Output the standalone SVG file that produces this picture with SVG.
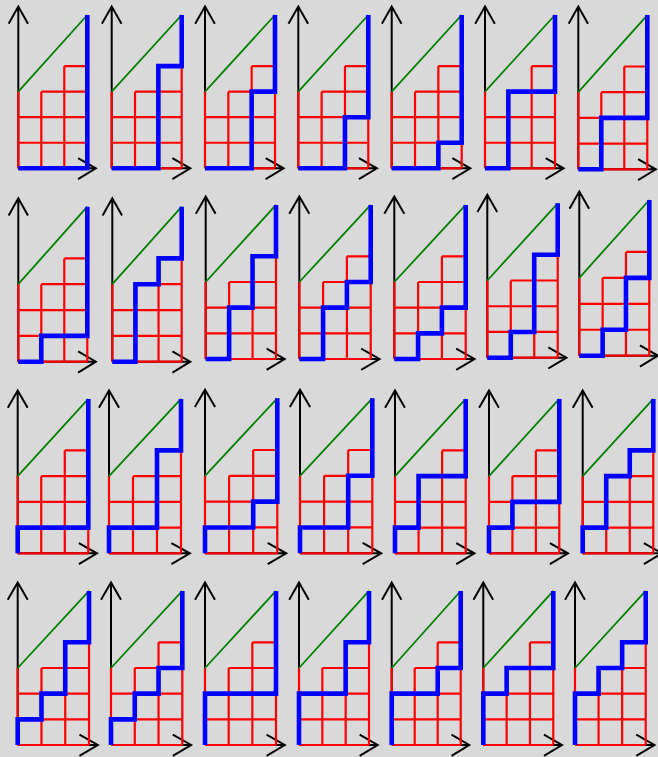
<svg xmlns="http://www.w3.org/2000/svg" width="658" height="757" viewBox="0 0 658 757">
<style>
.ax{fill:none;stroke:#000;stroke-width:2;vector-effect:non-scaling-stroke}
.grid{fill:none;stroke:#ff0000;stroke-width:2.2;vector-effect:non-scaling-stroke}
.diag{fill:none;stroke:#008000;stroke-width:1.8;vector-effect:non-scaling-stroke}
.lp{fill:none;stroke:#0000ff;stroke-width:4.6;stroke-linejoin:miter;vector-effect:non-scaling-stroke}
</style>
<defs>
<g id="frame">
<path class="ax" d="M0,0 V-6.33 M-0.42,-5.66 L0,-6.33 L0.42,-5.66 M0,0 H3.37 M2.6,-0.4 L3.37,0 L2.6,0.42"/>
<path class="grid" d="M0,0 V-3 M1,0 V-3 M2,0 V-4 M3,0 V-4 M0,0 H3 M0,-1 H3 M0,-2 H3 M1,-3 H3 M2,-4 H3"/>
<path class="diag" d="M0,-3 L3,-6"/>
</g>
</defs>
<rect width="658" height="757" fill="#d9d9d9"/>
<g id="connectors"></g>
<!-- row 1 -->
<g id="p1-1" transform="translate(18.3,168.3) scale(23,25.55)"><use href="#frame"/><path class="lp" d="M0,0 V0 H1 V0 H2 V0 H3 V-6"/></g>
<g id="p1-2" transform="translate(111.7,168.3) scale(23.33,25.55)"><use href="#frame"/><path class="lp" d="M0,0 V0 H1 V0 H2 V-4 H3 V-6"/></g>
<g id="p1-3" transform="translate(205,168.3) scale(23.33,25.55)"><use href="#frame"/><path class="lp" d="M0,0 V0 H1 V0 H2 V-3 H3 V-6"/></g>
<g id="p1-4" transform="translate(298.3,168.3) scale(23.33,25.55)"><use href="#frame"/><path class="lp" d="M0,0 V0 H1 V0 H2 V-2 H3 V-6"/></g>
<g id="p1-5" transform="translate(391.7,168.3) scale(23.33,25.55)"><use href="#frame"/><path class="lp" d="M0,0 V0 H1 V0 H2 V-1 H3 V-6"/></g>
<g id="p1-6" transform="translate(485,168.3) scale(23.33,25.55)"><use href="#frame"/><path class="lp" d="M0,0 V0 H1 V-3 H2 V-3 H3 V-6"/></g>
<g id="p1-7" transform="translate(578.3,169.3) scale(23,25.7)"><use href="#frame"/><path class="lp" d="M0,0 V0 H1 V-2 H2 V-2 H3 V-6"/></g>
<!-- row 2 -->
<g id="p2-1" transform="translate(18.3,361.7) scale(23,25.83)"><use href="#frame"/><path class="lp" d="M0,0 V0 H1 V-1 H2 V-1 H3 V-6"/></g>
<g id="p2-2" transform="translate(112.3,361.7) scale(23.13,25.83)"><use href="#frame"/><path class="lp" d="M0,0 V0 H1 V-3 H2 V-4 H3 V-6"/></g>
<g id="p2-3" transform="translate(205.7,359) scale(23.43,25.67)"><use href="#frame"/><path class="lp" d="M0,0 V0 H1 V-2 H2 V-4 H3 V-6"/></g>
<g id="p2-4" transform="translate(299.3,359) scale(23.8,25.67)"><use href="#frame"/><path class="lp" d="M0,0 V0 H1 V-2 H2 V-3 H3 V-6"/></g>
<g id="p2-5" transform="translate(394.3,359) scale(23.8,25.67)"><use href="#frame"/><path class="lp" d="M0,0 V0 H1 V-1 H2 V-2 H3 V-6"/></g>
<g id="p2-6" transform="translate(487.3,357.7) scale(23.47,25.73)"><use href="#frame"/><path class="lp" d="M0,0 V0 H1 V-1 H2 V-4 H3 V-6"/></g>
<g id="p2-7" transform="translate(579.3,355.7) scale(23.33,25.95)"><use href="#frame"/><path class="lp" d="M0,0 V0 H1 V-1 H2 V-3 H3 V-6"/></g>
<!-- row 3 -->
<g id="p3-1" transform="translate(17.7,553.3) scale(23.53,25.72)"><use href="#frame"/><path class="lp" d="M0,0 V-1 H1 V-1 H2 V-1 H3 V-6"/></g>
<g id="p3-2" transform="translate(109,553.3) scale(24,25.72)"><use href="#frame"/><path class="lp" d="M0,0 V-1 H1 V-1 H2 V-4 H3 V-6"/></g>
<g id="p3-3" transform="translate(205,553.3) scale(24.1,25.83)"><use href="#frame"/><path class="lp" d="M0,0 V-1 H1 V-1 H2 V-2 H3 V-6"/></g>
<g id="p3-4" transform="translate(300,553.3) scale(24.1,25.83)"><use href="#frame"/><path class="lp" d="M0,0 V-1 H1 V-1 H2 V-3 H3 V-6"/></g>
<g id="p3-5" transform="translate(395,553.3) scale(23.57,25.72)"><use href="#frame"/><path class="lp" d="M0,0 V-1 H1 V-3 H2 V-3 H3 V-6"/></g>
<g id="p3-6" transform="translate(489,553.3) scale(23.43,25.72)"><use href="#frame"/><path class="lp" d="M0,0 V-1 H1 V-2 H2 V-2 H3 V-6"/></g>
<g id="p3-7" transform="translate(582.7,553.3) scale(23.53,25.72)"><use href="#frame"/><path class="lp" d="M0,0 V-1 H1 V-3 H2 V-4 H3 V-6"/></g>
<!-- row 4 -->
<g id="p4-1" transform="translate(17.7,745) scale(23.77,25.67)"><use href="#frame"/><path class="lp" d="M0,0 V-1 H1 V-2 H2 V-4 H3 V-6"/></g>
<g id="p4-2" transform="translate(111,745) scale(23.77,25.67)"><use href="#frame"/><path class="lp" d="M0,0 V-1 H1 V-2 H2 V-3 H3 V-6"/></g>
<g id="p4-3" transform="translate(205,745) scale(23.67,25.67)"><use href="#frame"/><path class="lp" d="M0,0 V-2 H1 V-2 H2 V-2 H3 V-6"/></g>
<g id="p4-4" transform="translate(299,745) scale(23.33,25.67)"><use href="#frame"/><path class="lp" d="M0,0 V-2 H1 V-2 H2 V-4 H3 V-6"/></g>
<g id="p4-5" transform="translate(391.7,745) scale(23,25.67)"><use href="#frame"/><path class="lp" d="M0,0 V-2 H1 V-2 H2 V-3 H3 V-6"/></g>
<g id="p4-6" transform="translate(483.3,745) scale(23.33,25.67)"><use href="#frame"/><path class="lp" d="M0,0 V-2 H1 V-3 H2 V-3 H3 V-6"/></g>
<g id="p4-7" transform="translate(575,745) scale(23.57,25.67)"><use href="#frame"/><path class="lp" d="M0,0 V-2 H1 V-3 H2 V-4 H3 V-6"/></g>
</svg>
